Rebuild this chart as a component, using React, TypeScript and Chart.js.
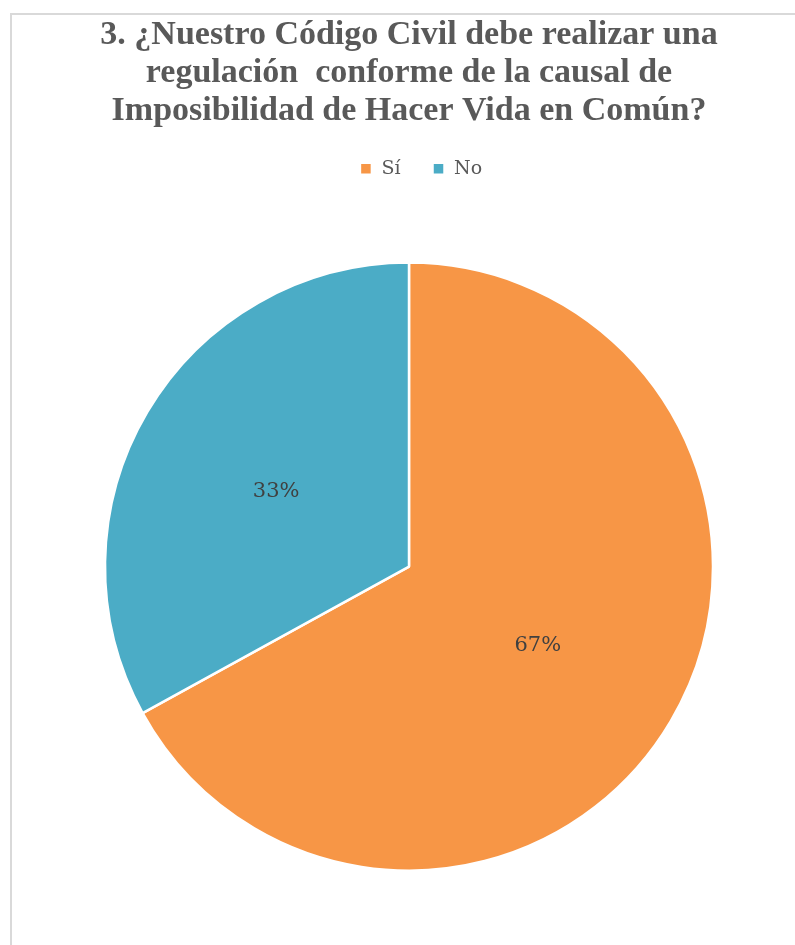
import React, { useEffect, useRef } from "react";
import { Chart, registerables } from "chart.js";

Chart.register(...registerables);

const titleLines = [
  "3. ¿Nuestro Código Civil debe realizar una",
  "regulación  conforme de la causal de",
  "Imposibilidad de Hacer Vida en Común?",
];
const categories = ["Sí", "No"];
const values = [67, 33];
const labelsText = ["67%", "33%"];
const colors = ["#F79646", "#4BACC6"];

const pctLabels = {
  id: "pctLabels",
  afterLayout(chart: any) {
    if (chart.legend) {
      chart.legend.left += 12;
      chart.legend.right += 12;
      chart.legend.top -= 3;
      chart.legend.bottom -= 3;
    }
  },
  afterDatasetsDraw(chart: any) {
    const ctx = chart.ctx;
    const meta = chart.getDatasetMeta(0);
    ctx.save();
    ctx.font = "21px 'DejaVu Serif', serif";
    ctx.fillStyle = "#404040";
    ctx.textAlign = "center";
    ctx.textBaseline = "middle";
    meta.data.forEach((arc: any, i: number) => {
      const p = arc.tooltipPosition();
      ctx.fillText(labelsText[i], p.x - 2, p.y + 2);
    });
    ctx.restore();
  },
};

export default function App() {
  const ref = useRef<HTMLCanvasElement>(null);
  useEffect(() => {
    document.body.style.margin = "0";
    const chart = new Chart(ref.current!, {
      type: "pie",
      data: {
        labels: categories,
        datasets: [
          {
            data: values,
            backgroundColor: colors,
            borderColor: "#ffffff",
            borderWidth: 2.5,
            radius: 304,
          },
        ],
      },
      options: {
        animation: false,
        responsive: false,
        layout: { padding: { left: 23, right: 0, top: 0, bottom: 3 } },
        plugins: {
          tooltip: { enabled: false },
          title: {
            display: true,
            text: titleLines,
            color: "#595959",
            font: { family: "'Liberation Serif', serif", size: 34, weight: "bold", lineHeight: 1.12 },
            padding: { top: 16, bottom: 0 },
          },
          legend: {
            display: true,
            position: "top",
            labels: {
              color: "#595959",
              font: { family: "'DejaVu Serif', serif", size: 19 },
              boxWidth: 12,
              boxHeight: 12,
              padding: 32,
            },
          },
        },
      },
      plugins: [pctLabels],
    });
    return () => chart.destroy();
  }, []);
  return (
    <div style={{ position: "relative", width: 795, height: 945, overflow: "hidden", background: "#fff" }}>
      <div
        style={{
          position: "absolute",
          left: 10,
          top: 13,
          width: 800,
          height: 960,
          borderLeft: "2px solid #d9d9d9",
          borderTop: "2px solid #d9d9d9",
        }}
      />
      <canvas ref={ref} width={795} height={945} style={{ position: "absolute", left: 0, top: 0, display: "block" }} />
    </div>
  );
}
